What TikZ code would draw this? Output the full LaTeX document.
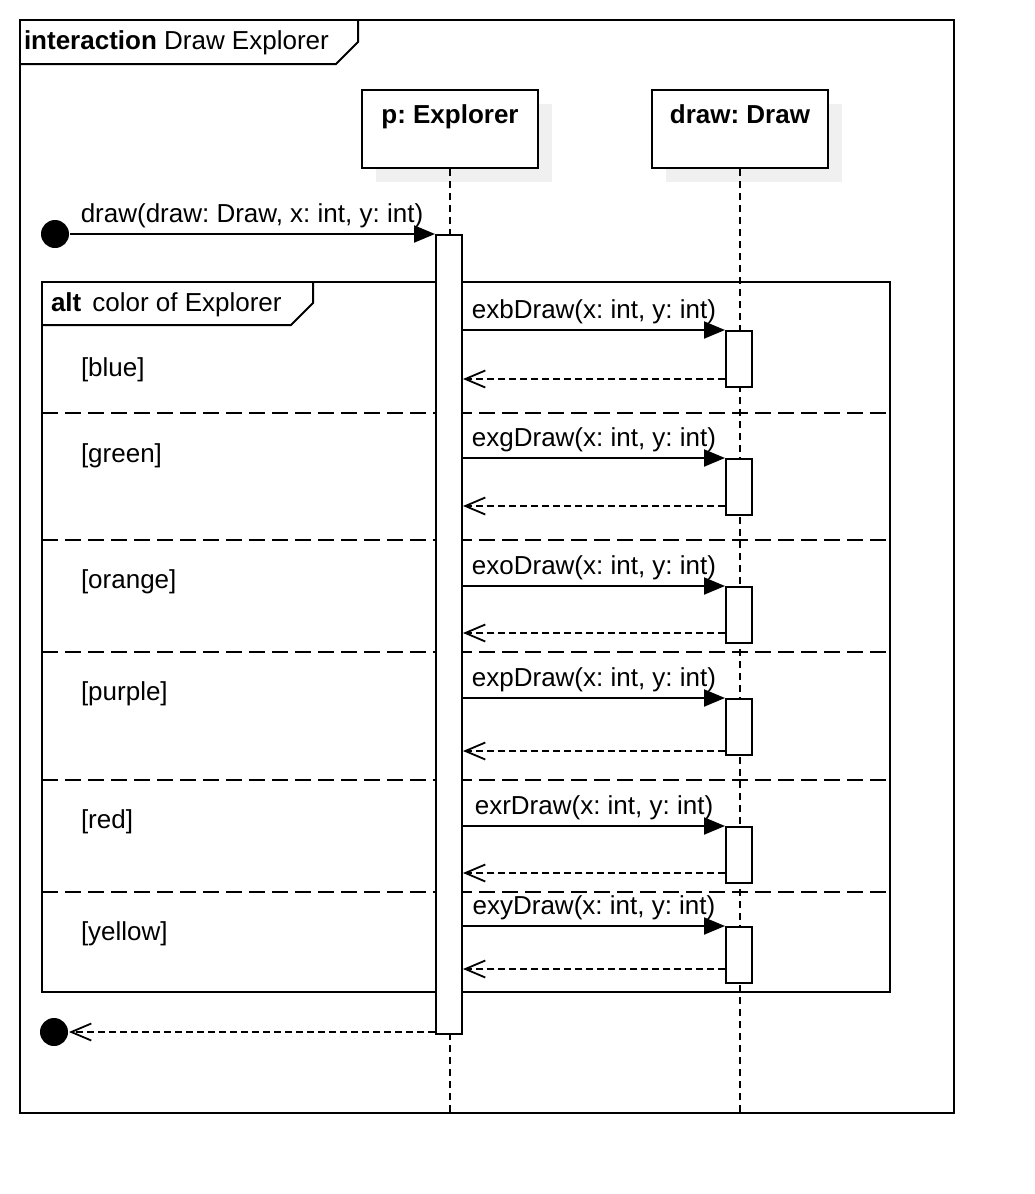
\documentclass[tikz,border=0pt]{standalone}
\usepackage{fontspec}
\setmainfont{Liberation Sans}
\usetikzlibrary{arrows.meta,shadows}
\frenchspacing
\begin{document}
\begin{tikzpicture}[x=1pt,y=-1pt,line width=2pt,
  font=\fontsize{26}{31}\selectfont,
  txt/.style={inner sep=0pt,outer sep=0pt},
  headbox/.style={draw,fill=white,minimum width=176pt,minimum height=78pt,inner sep=0pt,
    drop shadow={shadow xshift=14pt,shadow yshift=-14pt,fill=black!6,opacity=1}},
  lifeline/.style={line width=1.8pt,dash pattern=on 7pt off 5pt},
  actbox/.style={draw,fill=white,minimum width=26pt,inner sep=0pt,anchor=north},
  dot/.style={circle,fill=black,minimum size=28pt,inner sep=0pt},
  msg/.style={-{Triangle[length=21pt,width=17pt]}},
  ret/.style={line width=1.8pt,dash pattern=on 7pt off 4pt,
    -{Straight Barb[length=20pt,width=17pt,line width=1.8pt]}},
  sep/.style={dash pattern=on 16pt off 7pt},
  guard/.style={txt,anchor=west},
  lbl/.style={txt,anchor=base}]
\useasboundingbox (0,0) rectangle (1034,1194);

% interaction frame
\draw (20,20) rectangle (954,1113);
\draw (20,64) -- (336,64) -- (358,42) -- (358,20);
\node[txt,anchor=base west] (frameTitle) at (24,49) {\textbf{interaction} Draw Explorer};

% lifeline heads
\node[headbox] (pE) at (450,129) {};
\node[lbl] (pEname) at (450,123) {\textbf{p: Explorer}};
\node[headbox] (dD) at (740,129) {};
\node[lbl] (dDname) at (740,123) {\textbf{draw: Draw}};

% lifelines
\coordinate (pEnd) at (450,1113);
\coordinate (dEnd) at (740,1113);
\draw[lifeline] (pE.south) -- (pEnd);
\draw[lifeline] (dD.south) -- (dEnd);

% alt fragment
\draw (42,282) rectangle (890,992);
\draw (42,325) -- (291,325) -- (313,303) -- (313,282);
\node[txt,anchor=base west] (altTitle) at (51,311) {\textbf{alt}\hspace{11pt}color of Explorer};
\foreach \yy in {413,540,652,780,892}
  \draw[sep] (42,\yy) -- (890,\yy);

\node[guard] (g1) at (81,370) {[blue]};
\node[guard] (g2) at (81,456) {[green]};
\node[guard] (g3) at (81,582) {[orange]};
\node[guard] (g4) at (81,694) {[purple]};
\node[guard] (g5) at (81,822) {[red]};
\node[guard] (g6) at (81,934) {[yellow]};

% activation of p
\node[actbox,minimum height=799pt] (actP) at (449,234) {};

% incoming call and final return
\node[dot] (startDot) at (55,234) {};
\node[dot] (endDot) at (54,1032) {};
\draw[msg] (startDot) -- (actP.north west);
\node[lbl] (callLbl) at (252,222) {draw(draw: Draw, x: int, y: int)};
\draw[ret] (actP.south west |- 0,1032) -- (endDot);

% calls to draw, one per alternative
\foreach \i/\ym/\yr/\name in {1/330/379/exbDraw,2/458/506/exgDraw,3/586/633/exoDraw,
                              4/698/751/expDraw,5/826/873/exrDraw,6/926/969/exyDraw}{
  \node[actbox,minimum height=56pt] (act\i) at (739,\ym) {};
  \draw[msg] (actP.east |- act\i.north) -- (act\i.north west);
  \node[lbl] (lbl\i) at (594,\ym-12) {\name(x: int, y: int)};
  \draw[ret] (act\i.west |- 0,\yr) -- (actP.east |- 0,\yr);
}
\end{tikzpicture}
\end{document}
